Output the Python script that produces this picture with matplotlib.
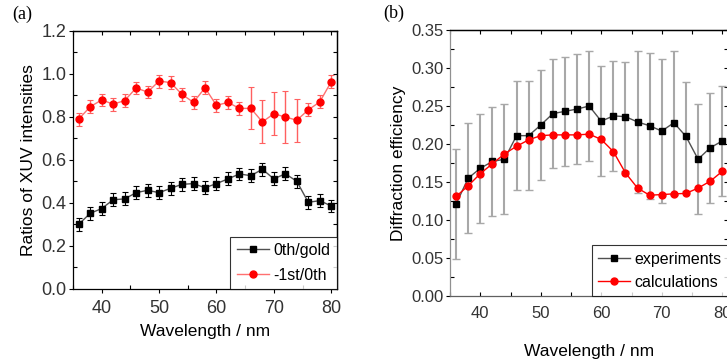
import matplotlib
matplotlib.use("Agg")
import matplotlib.pyplot as plt
from matplotlib.ticker import MultipleLocator, FormatStrFormatter, NullFormatter
from matplotlib.lines import Line2D

# ---------------- data ----------------
wavelength = [36, 38, 40, 42, 44, 46, 48, 50, 52, 54, 56, 58,
              60, 62, 64, 66, 68, 70, 72, 74, 76, 78, 80]

# panel (a)
gold0_ratio = [0.301, 0.352, 0.374, 0.415, 0.419, 0.448, 0.459, 0.448, 0.468, 0.487, 0.490, 0.471,
               0.490, 0.512, 0.535, 0.527, 0.557, 0.512, 0.536, 0.501, 0.403, 0.411, 0.386]
gold0_err = [0.03] * 23
first_ratio = [0.790, 0.848, 0.879, 0.860, 0.876, 0.935, 0.916, 0.967, 0.960, 0.905, 0.868, 0.936,
               0.854, 0.868, 0.840, 0.840, 0.777, 0.815, 0.800, 0.785, 0.833, 0.870, 0.964]
first_err = [0.03, 0.03, 0.03, 0.03, 0.03, 0.03, 0.03, 0.03, 0.03, 0.03, 0.03, 0.03,
             0.03, 0.03, 0.03, 0.098, 0.10, 0.10, 0.12, 0.10, 0.03, 0.03, 0.03]
label_a = ["0th/gold", "-1st/0th"]

# panel (b)
experiments = [0.121, 0.155, 0.168, 0.177, 0.180, 0.211, 0.211, 0.225, 0.240, 0.243, 0.246, 0.250,
               0.230, 0.237, 0.236, 0.229, 0.224, 0.217, 0.228, 0.210, 0.180, 0.195, 0.204]
exp_err = [0.072, 0.072, 0.072, 0.072, 0.072, 0.072, 0.072, 0.072, 0.072, 0.072, 0.072, 0.072,
           0.072, 0.072, 0.072, 0.094, 0.096, 0.095, 0.095, 0.072, 0.072, 0.072, 0.072]
calculations = [0.131, 0.145, 0.161, 0.174, 0.187, 0.197, 0.2055, 0.211, 0.212, 0.212, 0.212, 0.213,
                0.206, 0.190, 0.162, 0.142, 0.1326, 0.1335, 0.1344, 0.135, 0.142, 0.151, 0.164]
label_b = ["experiments", "calculations"]

# ---------------- style ----------------
plt.rcParams['font.family'] = ['Liberation Sans', 'DejaVu Sans']
LAB_FS = 12.5
LEG_FS = 11.5

fig = plt.figure(figsize=(7.27, 3.62), dpi=100)

# ----- panel (a)
ax1 = fig.add_axes([0.1004, 0.2017, 0.3631, 0.7127])
ax1.errorbar(wavelength, gold0_ratio, yerr=gold0_err, color='#505050', lw=1.0,
             marker='s', ms=5, mfc='black', mec='black', ecolor='black', elinewidth=0.8,
             capsize=2.5, capthick=0.8)
ax1.errorbar(wavelength, first_ratio, yerr=first_err, color='#ff7070', lw=1.0,
             marker='o', ms=5, mfc='red', mec='red', ecolor='#ff6060', elinewidth=1.0,
             capsize=2.5, capthick=0.8)
ax1.set_xlim(35, 81)
ax1.set_ylim(0, 1.2)
ax1.xaxis.set_major_locator(MultipleLocator(10))
ax1.xaxis.set_minor_locator(MultipleLocator(5))
ax1.yaxis.set_major_locator(MultipleLocator(0.2))
ax1.yaxis.set_minor_locator(MultipleLocator(0.1))
ax1.yaxis.set_major_formatter(FormatStrFormatter('%.1f'))
ax1.set_xlabel("Wavelength / nm", fontsize=LAB_FS, labelpad=5)
ax1.set_ylabel("Ratios of XUV intensities", fontsize=LAB_FS)
ax1.yaxis.set_label_coords(-0.14, 0.5)
ax1.text(-0.23, 1.03, "(a)", transform=ax1.transAxes, fontsize=13,
         family='Liberation Serif', va='bottom', ha='left')
h1 = [Line2D([], [], color='#505050', lw=1.0, marker='s', ms=5, mfc='black', mec='black'),
      Line2D([], [], color='#ff7070', lw=1.0, marker='o', ms=5, mfc='red', mec='red')]
leg1 = ax1.legend(h1, label_a, loc='lower right', borderaxespad=0, fontsize=LEG_FS, frameon=True,
                  fancybox=False, edgecolor='black', handlelength=2.0, handletextpad=0.3,
                  borderpad=0.4, labelspacing=0.6)
leg1.get_frame().set_linewidth(0.8)

# ----- panel (b)
ax2 = fig.add_axes([0.619, 0.1823, 0.3828, 0.7348])
ax2.errorbar(wavelength, experiments, yerr=exp_err, color='#505050', lw=1.0,
             marker='s', ms=5, mfc='black', mec='black', ecolor='#a8a8a8', elinewidth=1.5,
             capsize=3, capthick=1.0, zorder=2)
ax2.plot(wavelength, calculations, color='red', lw=1.0, marker='o', ms=5,
         mfc='red', mec='red', zorder=3)
ax2.set_xlim(35, 81)
ax2.set_ylim(0, 0.35)
ax2.xaxis.set_major_locator(MultipleLocator(10))
ax2.xaxis.set_minor_locator(MultipleLocator(5))
ax2.yaxis.set_major_locator(MultipleLocator(0.05))
ax2.yaxis.set_minor_locator(MultipleLocator(0.025))
ax2.yaxis.set_major_formatter(FormatStrFormatter('%.2f'))
ax2.set_xlabel("Wavelength / nm", fontsize=LAB_FS, labelpad=17)
ax2.set_ylabel("Diffraction efficiency", fontsize=LAB_FS)
ax2.yaxis.set_label_coords(-0.158, 0.5)
ax2.text(-0.24, 1.03, "(b)", transform=ax2.transAxes, fontsize=13,
         family='Liberation Serif', va='bottom', ha='left')
h2 = [Line2D([], [], color='#505050', lw=1.0, marker='s', ms=5, mfc='black', mec='black'),
      Line2D([], [], color='red', lw=1.0, marker='o', ms=5, mfc='red', mec='red')]
leg2 = ax2.legend(h2, label_b, loc='lower right', borderaxespad=0, fontsize=LEG_FS, frameon=True,
                  fancybox=False, edgecolor='black', handlelength=2.0, handletextpad=0.3,
                  borderpad=0.4, labelspacing=0.5)
leg2.get_frame().set_linewidth(0.8)

# ---- ticks: major out / minor in on left & bottom, all in on top & right
for ax, tick_fs, bottom_major, xpad in ((ax1, 13, 'out', 5), (ax2, 12, 'in', 7)):
    ax.tick_params(axis='both', which='major', labelsize=tick_fs, length=3, width=0.8,
                   pad=1.5, labelcolor='#333333')
    ax.tick_params(axis='y', which='major', direction='out', left=True, right=False)
    ax.tick_params(axis='y', which='minor', direction='in', length=3, width=0.8,
                   left=True, right=False)
    ax.tick_params(axis='x', which='major', direction=bottom_major, bottom=True, top=False,
                   pad=xpad)
    ax.tick_params(axis='x', which='minor', direction='in', length=3, width=0.8,
                   bottom=True, top=False)
    for s in ax.spines.values():
        s.set_linewidth(0.9)
    top = ax.secondary_xaxis('top')
    top.xaxis.set_major_locator(ax.xaxis.get_major_locator())
    top.xaxis.set_minor_locator(ax.xaxis.get_minor_locator())
    top.xaxis.set_major_formatter(NullFormatter())
    top.tick_params(which='both', direction='in', length=3, width=0.8)
    right = ax.secondary_yaxis('right')
    right.yaxis.set_major_locator(ax.yaxis.get_major_locator())
    right.yaxis.set_minor_locator(ax.yaxis.get_minor_locator())
    right.yaxis.set_major_formatter(NullFormatter())
    right.tick_params(which='both', direction='in', length=3, width=0.8)
    for sec in (top, right):
        for s in sec.spines.values():
            s.set_linewidth(0.9)

ax2.spines['left'].set_color('#909090')
ax2.spines['bottom'].set_color('#606060')

fig.savefig("out.png", dpi=100)
